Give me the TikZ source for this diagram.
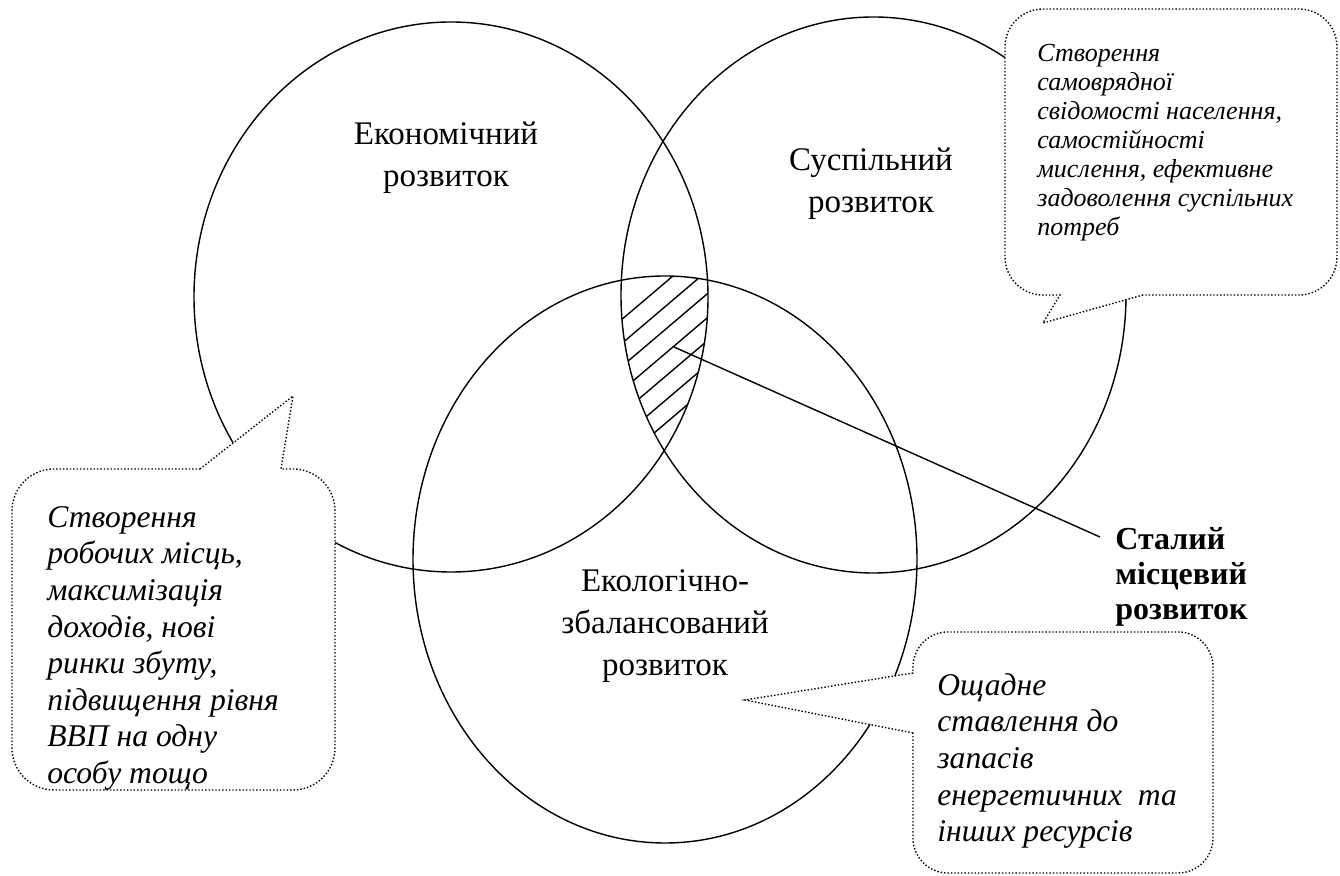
\documentclass[tikz,border=0pt]{standalone}
\usepackage{fontspec}
\setmainfont{Liberation Serif}

\begin{document}
\begin{tikzpicture}[
        x=0.5pt, y=-0.5pt,
        venn/.style={draw, line width=0.7pt},
        bubble/.style={draw, fill=white, densely dotted, line width=0.7pt},
        circlelabel/.style={align=center, font=\fontsize{16.5}{21}\selectfont},
        note/.style={anchor=north west, inner sep=0pt, align=left, font=\fontsize{15.8}{18.3}\selectfont\itshape},
        smallnote/.style={note, font=\fontsize{13}{14.5}\selectfont\itshape},
        result/.style={anchor=north west, inner sep=0pt, align=left, font=\fontsize{16}{17.5}\selectfont\bfseries}
    ]
    \useasboundingbox (0,0) rectangle (1340,876);

    \draw[venn] (451,297) ellipse [x radius=257, y radius=275];
    \draw[venn] (873.5,295) ellipse [x radius=252.5, y radius=278];
    \draw[venn] (665,559.5) ellipse [x radius=252, y radius=283.5];

    \begin{scope}
        \clip (451,297) ellipse [x radius=257, y radius=275];
        \clip (873.5,295) ellipse [x radius=252.5, y radius=278];
        \clip (665,559.5) ellipse [x radius=252, y radius=283.5];
        \foreach \c in {338,362,385,409,432,456,479}
            \draw[line width=0.7pt] (560,{\c+34}) -- (760,{\c-136});
    \end{scope}

    \node[circlelabel] (econ) at (446,158) {Економічний\\розвиток};
    \node[circlelabel] (soc) at (871,184) {Суспільний\\розвиток};
    \node[circlelabel] (eco) at (665,626) {Екологічно-\\збалансований\\розвиток};

    \coordinate (hub) at (674,347);
    \node[result] (stalyi) at (1115,527) {Сталий\\місцевий\\розвиток};
    \draw[venn] (hub) -- ([xshift=-7.5pt,yshift=-5pt]stalyi.north west);

    \draw[bubble] (200,469) -- (293,396) -- (281,469) -- (293,469)
        arc[start angle=-90, end angle=0, radius=42] -- (335,748)
        arc[start angle=0, end angle=90, radius=42] -- (54,790)
        arc[start angle=90, end angle=180, radius=42] -- (12,511)
        arc[start angle=180, end angle=270, radius=42] -- cycle;
    \draw[bubble] (1143,295) -- (1043,323) -- (1060,295) -- (1043,295)
        arc[start angle=90, end angle=180, radius=38] -- (1005,47)
        arc[start angle=180, end angle=270, radius=38] -- (1299,9)
        arc[start angle=270, end angle=360, radius=38] -- (1337,257)
        arc[start angle=0, end angle=90, radius=38] -- cycle;
    \draw[bubble] (913,733) -- (745,700) -- (913,673) -- (913,667)
        arc[start angle=180, end angle=270, radius=35] -- (1178,632)
        arc[start angle=270, end angle=360, radius=35] -- (1213,838)
        arc[start angle=0, end angle=90, radius=35] -- (948,873)
        arc[start angle=90, end angle=180, radius=35] -- cycle;

    \node[note] (econnote) at (47,506) {Створення\\робочих місць,\\максимізація\\доходів, нові\\ринки збуту,\\підвищення рівня\\ВВП на одну\\особу тощо};
    \node[smallnote] (socnote) at (1037,44) {Створення\\самоврядної\\свідомості населення,\\самостійності\\мислення, ефективне\\задоволення суспільних\\потреб};
    \node[note] (econote) at (937,673) {Ощадне\\ставлення до\\запасів\\енергетичних\ \ та\\інших ресурсів};
\end{tikzpicture}
\end{document}
